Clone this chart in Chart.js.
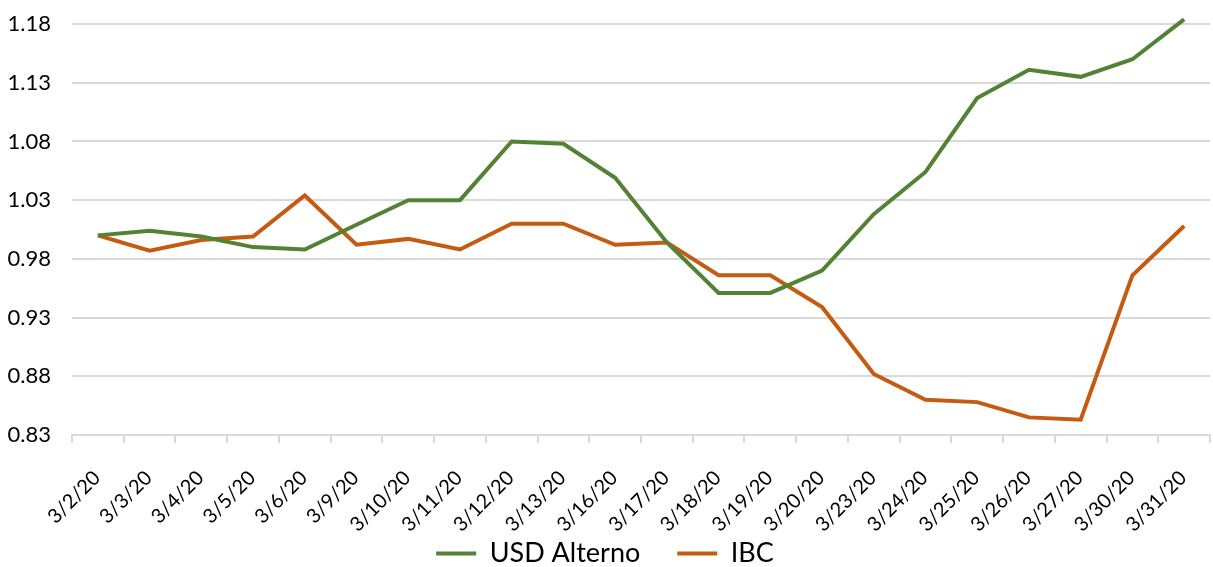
<!DOCTYPE html>
<html>
<head>
<meta charset="utf-8">
<script src="https://cdn.jsdelivr.net/npm/chart.js@4/dist/chart.umd.min.js"></script>
<style>
    html, body { margin: 0; padding: 0; background: #fff; }
    #wrap { width: 1213px; height: 567px; }
</style>
</head>
<body>
<div id="wrap"><canvas id="chart"></canvas></div>
<script>
// Daten
var dates = ['3/2/20', '3/3/20', '3/4/20', '3/5/20', '3/6/20', '3/9/20', '3/10/20', '3/11/20',
             '3/12/20', '3/13/20', '3/16/20', '3/17/20', '3/18/20', '3/19/20', '3/20/20', '3/23/20',
             '3/24/20', '3/25/20', '3/26/20', '3/27/20', '3/30/20', '3/31/20'];
var usdAlterno = [1.000, 1.004, 0.999, 0.990, 0.988, 1.009, 1.030, 1.030, 1.080, 1.078, 1.049,
                  0.994, 0.951, 0.951, 0.970, 1.018, 1.054, 1.117, 1.141, 1.135, 1.150, 1.184];
var ibc = [1.000, 0.987, 0.996, 0.999, 1.034, 0.992, 0.997, 0.988, 1.010, 1.010, 0.992,
           0.994, 0.966, 0.966, 0.939, 0.882, 0.860, 0.858, 0.845, 0.843, 0.966, 1.008];
var yTicks = [0.83, 0.88, 0.93, 0.98, 1.03, 1.08, 1.13, 1.18];

var fontFamily = 'Lato, "Open Sans", sans-serif';
var gridColor = '#d9d9d9';

var ctx = document.getElementById('chart');
var chart = new Chart(ctx, {
    type: 'line',
    data: {
        labels: dates,
        datasets: [
            {label: 'USD Alterno', data: usdAlterno, borderColor: '#548235', backgroundColor: '#548235',
                borderWidth: 4, pointRadius: 0, tension: 0, fill: false, clip: false},
            {label: 'IBC', data: ibc, borderColor: '#C55A11', backgroundColor: '#C55A11',
                borderWidth: 4, pointRadius: 0, tension: 0, fill: false, clip: false}
        ]
    },
    options: {
        responsive: true,
        maintainAspectRatio: false,
        animation: false,
        layout: {padding: {left: 0, right: 3, top: 24, bottom: -10}},
        plugins: {
            tooltip: {enabled: false},
            legend: {
                position: 'bottom',
                labels: {
                    boxWidth: 40,
                    boxHeight: 4,
                    padding: 37,
                    color: '#000',
                    font: {family: fontFamily, size: 27},
                    generateLabels: function(chart) {
                        var items = Chart.defaults.plugins.legend.labels.generateLabels(chart);
                        items.forEach(function(item) {
                            item.lineWidth = 0;
                            item.fillStyle = item.strokeStyle;
                        });
                        return items;
                    }
                }
            }
        },
        scales: {
            x: {
                offset: true,
                grid: {offset: true, drawOnChartArea: false, drawTicks: true, tickLength: 8,
                    color: gridColor, lineWidth: 2},
                border: {display: true, color: gridColor, width: 2},
                ticks: {
                    autoSkip: false, minRotation: 45, maxRotation: 45, padding: 23, labelOffset: -1,
                    color: '#000', font: {family: fontFamily, size: 20}
                },
                afterFit: function(axis) {
                    axis.paddingLeft = 0;
                    axis.paddingRight = 0;
                    axis.height = 68;
                    // Beschriftungen duerfen in den Legendenbereich ragen
                    axis._computeLabelArea = function() { return null; };
                }
            },
            y: {
                min: 0.83,
                max: 1.18,
                afterBuildTicks: function(axis) {
                    axis.ticks = yTicks.map(function(v) { return {value: v}; });
                },
                afterFit: function(axis) {
                    axis.width = 72;
                    axis.paddingTop = 0;
                    axis.paddingBottom = 0;
                },
                grid: {color: gridColor, lineWidth: 2, drawTicks: false},
                border: {display: false},
                ticks: {
                    padding: 21,
                    color: '#000',
                    font: {family: fontFamily, size: 22},
                    callback: function(value) { return Number(value).toFixed(2); }
                }
            }
        }
    }
});
</script>
</body>
</html>
